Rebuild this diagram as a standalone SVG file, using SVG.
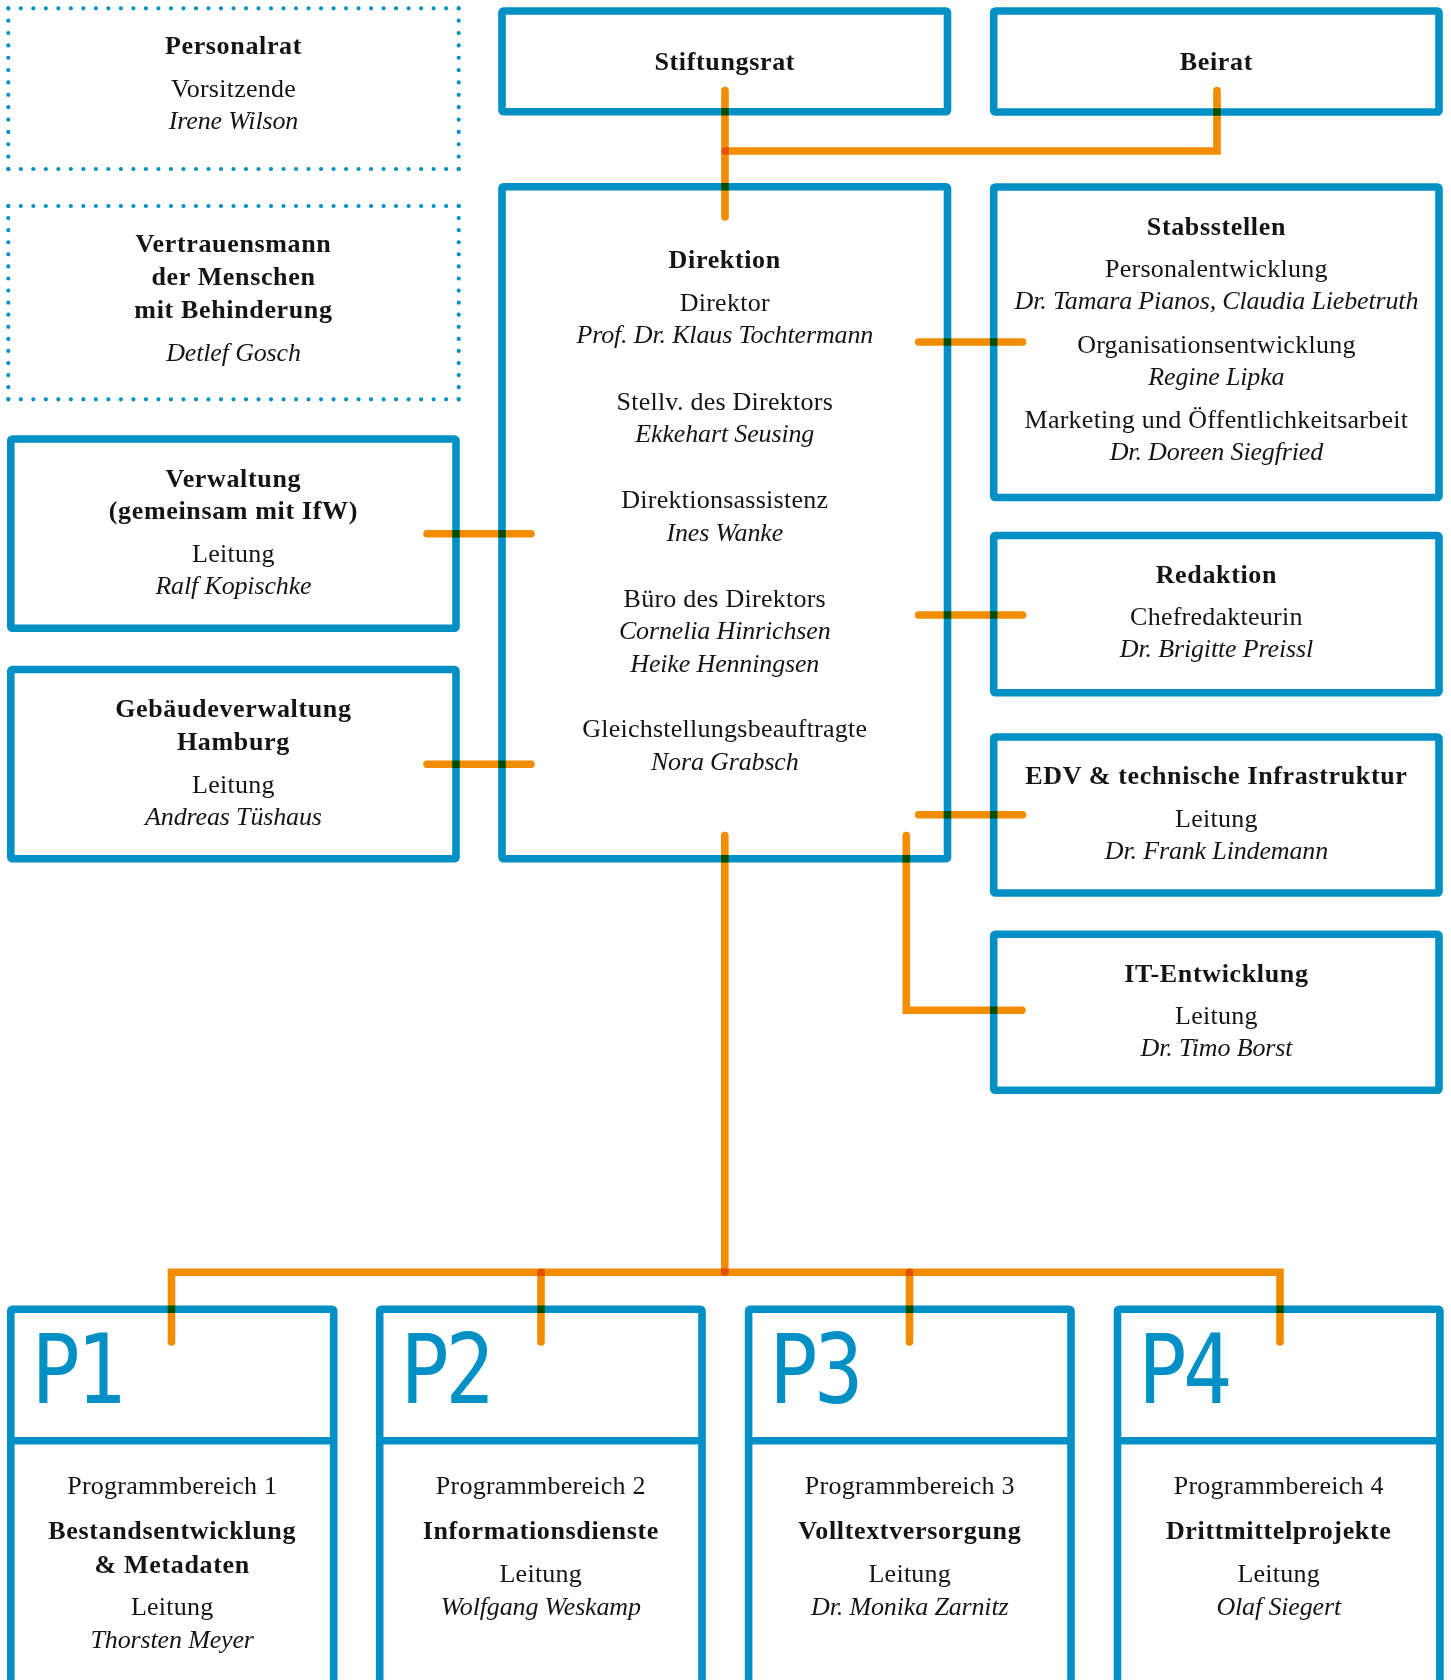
<svg xmlns="http://www.w3.org/2000/svg" width="1451" height="1680" viewBox="0 0 1451 1680">
<style>
.bx{fill:#fff;stroke:#0090C5;stroke-width:7.6;stroke-linejoin:round}
.dv{stroke:#0090C5;stroke-width:7.6;fill:none}
.dot{stroke:#0090C5;stroke-width:4.2;stroke-linecap:round;fill:none}
.c{fill:none;stroke:#F28C00;stroke-width:7.6;stroke-linecap:round;stroke-linejoin:miter;mix-blend-mode:multiply}
.t{font-family:"Liberation Serif","Times New Roman",serif;font-size:26px;fill:#141414;text-anchor:middle;letter-spacing:0.25px}
.b{font-weight:bold;letter-spacing:0.65px}
.i{font-style:italic;letter-spacing:-0.15px}
.pn{font-family:"DejaVu Sans Mono",monospace;font-size:96px;fill:#0090C5;letter-spacing:-5px}
</style>
<rect width="1451" height="1680" fill="#fff"/>

<g id="personalrat">
<line class="dot" x1="8.3" y1="8.3" x2="458.7" y2="8.3" stroke-dasharray="0 12.51"/>
<line class="dot" x1="8.3" y1="169" x2="458.7" y2="169" stroke-dasharray="0 12.51"/>
<line class="dot" x1="8.3" y1="8.3" x2="8.3" y2="169" stroke-dasharray="0 12.36"/>
<line class="dot" x1="458.7" y1="8.3" x2="458.7" y2="169" stroke-dasharray="0 12.36"/>
<text class="t b" x="233.5" y="54">Personalrat</text>
<text class="t" x="233.5" y="97">Vorsitzende</text>
<text class="t i" x="233.5" y="129">Irene Wilson</text>
</g>

<g id="vertrauensmann">
<line class="dot" x1="8.3" y1="206" x2="458.7" y2="206" stroke-dasharray="0 12.51"/>
<line class="dot" x1="8.3" y1="399.3" x2="458.7" y2="399.3" stroke-dasharray="0 12.51"/>
<line class="dot" x1="8.3" y1="206" x2="8.3" y2="399.3" stroke-dasharray="0 12.08"/>
<line class="dot" x1="458.7" y1="206" x2="458.7" y2="399.3" stroke-dasharray="0 12.08"/>
<text class="t b" x="233.5" y="251.7">Vertrauensmann</text>
<text class="t b" x="233.5" y="285">der Menschen</text>
<text class="t b" x="233.5" y="317.5">mit Behinderung</text>
<text class="t i" x="233.5" y="361">Detlef Gosch</text>
</g>

<g id="stiftungsrat">
<rect class="bx" x="502" y="11" width="445.5" height="100.7" rx="1.5"/>
<text class="t b" x="724.75" y="70">Stiftungsrat</text>
</g>

<g id="beirat">
<rect class="bx" x="993.7" y="11" width="445.3" height="101" rx="1.5"/>
<text class="t b" x="1216.4" y="70">Beirat</text>
</g>

<g id="direktion">
<rect class="bx" x="502" y="186.7" width="445.5" height="672.1" rx="1.5"/>
<text class="t b" x="724.75" y="267.5">Direktion</text>
<text class="t" x="724.75" y="310.5">Direktor</text>
<text class="t i" x="724.75" y="342.5">Prof. Dr. Klaus Tochtermann</text>
<text class="t" x="724.75" y="409.5">Stellv. des Direktors</text>
<text class="t i" x="724.75" y="441.5">Ekkehart Seusing</text>
<text class="t" x="724.75" y="508.3">Direktionsassistenz</text>
<text class="t i" x="724.75" y="540.5">Ines Wanke</text>
<text class="t" x="724.75" y="606.7">Büro des Direktors</text>
<text class="t i" x="724.75" y="639">Cornelia Hinrichsen</text>
<text class="t i" x="724.75" y="671.5">Heike Henningsen</text>
<text class="t" x="724.75" y="737.3">Gleichstellungsbeauftragte</text>
<text class="t i" x="724.75" y="770">Nora Grabsch</text>
</g>

<g id="stabsstellen">
<rect class="bx" x="993.7" y="187" width="445.3" height="310.5" rx="1.5"/>
<text class="t b" x="1216.4" y="235">Stabsstellen</text>
<text class="t" x="1216.4" y="277.3">Personalentwicklung</text>
<text class="t i" x="1216.4" y="309.3">Dr. Tamara Pianos, Claudia Liebetruth</text>
<text class="t" x="1216.4" y="353.3">Organisationsentwicklung</text>
<text class="t i" x="1216.4" y="385">Regine Lipka</text>
<text class="t" x="1216.4" y="427.7">Marketing und Öffentlichkeitsarbeit</text>
<text class="t i" x="1216.4" y="460">Dr. Doreen Siegfried</text>
</g>

<g id="redaktion">
<rect class="bx" x="993.7" y="535.5" width="445.3" height="157.3" rx="1.5"/>
<text class="t b" x="1216.4" y="583.3">Redaktion</text>
<text class="t" x="1216.4" y="625">Chefredakteurin</text>
<text class="t i" x="1216.4" y="657.3">Dr. Brigitte Preissl</text>
</g>

<g id="edv">
<rect class="bx" x="993.7" y="737" width="445.3" height="156" rx="1.5"/>
<text class="t b" x="1216.4" y="784">EDV &amp; technische Infrastruktur</text>
<text class="t" x="1216.4" y="826.7">Leitung</text>
<text class="t i" x="1216.4" y="859.3">Dr. Frank Lindemann</text>
</g>

<g id="it-entwicklung">
<rect class="bx" x="993.7" y="934.2" width="445.3" height="156.1" rx="1.5"/>
<text class="t b" x="1216.4" y="981.7">IT-Entwicklung</text>
<text class="t" x="1216.4" y="1024">Leitung</text>
<text class="t i" x="1216.4" y="1056">Dr. Timo Borst</text>
</g>

<g id="verwaltung">
<rect class="bx" x="10.8" y="439" width="445.2" height="189.3" rx="1.5"/>
<text class="t b" x="233.4" y="487.3">Verwaltung</text>
<text class="t b" x="233.4" y="519.3">(gemeinsam mit IfW)</text>
<text class="t" x="233.4" y="562.3">Leitung</text>
<text class="t i" x="233.4" y="594.3">Ralf Kopischke</text>
</g>

<g id="gebaeudeverwaltung">
<rect class="bx" x="10.8" y="669.5" width="445.2" height="189.3" rx="1.5"/>
<text class="t b" x="233.4" y="716.7">Gebäudeverwaltung</text>
<text class="t b" x="233.4" y="750">Hamburg</text>
<text class="t" x="233.4" y="792.7">Leitung</text>
<text class="t i" x="233.4" y="825">Andreas Tüshaus</text>
</g>

<g id="p1">
<rect class="bx" x="10.8" y="1309.3" width="322.9" height="420" rx="1.5"/>
<line class="dv" x1="10.8" y1="1440.8" x2="333.7" y2="1440.8"/>
<text class="pn" transform="translate(31.5 1403) scale(0.85 1)">P1</text>
<text class="t" x="172.2" y="1494">Programmbereich 1</text>
<text class="t b" x="172.2" y="1539.3">Bestandsentwicklung</text>
<text class="t b" x="172.2" y="1572.7">&amp; Metadaten</text>
<text class="t" x="172.2" y="1615">Leitung</text>
<text class="t i" x="172.2" y="1648.3">Thorsten Meyer</text>
</g>

<g id="p2">
<rect class="bx" x="379.7" y="1309.3" width="322.3" height="420" rx="1.5"/>
<line class="dv" x1="379.7" y1="1440.8" x2="702" y2="1440.8"/>
<text class="pn" transform="translate(400.4 1403) scale(0.85 1)">P2</text>
<text class="t" x="540.8" y="1494">Programmbereich 2</text>
<text class="t b" x="540.8" y="1539.3">Informationsdienste</text>
<text class="t" x="540.8" y="1582.3">Leitung</text>
<text class="t i" x="540.8" y="1615">Wolfgang Weskamp</text>
</g>

<g id="p3">
<rect class="bx" x="748.6" y="1309.3" width="322.4" height="420" rx="1.5"/>
<line class="dv" x1="748.6" y1="1440.8" x2="1071" y2="1440.8"/>
<text class="pn" transform="translate(769.3 1403) scale(0.85 1)">P3</text>
<text class="t" x="909.8" y="1494">Programmbereich 3</text>
<text class="t b" x="909.8" y="1539.3">Volltextversorgung</text>
<text class="t" x="909.8" y="1582.3">Leitung</text>
<text class="t i" x="909.8" y="1615">Dr. Monika Zarnitz</text>
</g>

<g id="p4">
<rect class="bx" x="1117.5" y="1309.3" width="322.4" height="420" rx="1.5"/>
<line class="dv" x1="1117.5" y1="1440.8" x2="1439.9" y2="1440.8"/>
<text class="pn" transform="translate(1138.2 1403) scale(0.85 1)">P4</text>
<text class="t" x="1278.7" y="1494">Programmbereich 4</text>
<text class="t b" x="1278.7" y="1539.3">Drittmittelprojekte</text>
<text class="t" x="1278.7" y="1582.3">Leitung</text>
<text class="t i" x="1278.7" y="1615">Olaf Siegert</text>
</g>

<g id="connectors">
<path class="c" d="M725 90.5V217"/>
<path class="c" d="M1217 90.5V151H725"/>
<path class="c" d="M427 533.7H531"/>
<path class="c" d="M427 764.3H531"/>
<path class="c" d="M918.6 342H1022.6"/>
<path class="c" d="M918.6 615H1022.6"/>
<path class="c" d="M918.6 814.7H1022.6"/>
<path class="c" d="M906.3 835.5V1010.3H1022"/>
<path class="c" d="M724.8 835.5V1272.2"/>
<path class="c" d="M171.5 1342V1272.2H1280V1342"/>
<path class="c" d="M541 1272.2V1342"/>
<path class="c" d="M909.5 1272.2V1342"/>
</g>
</svg>
